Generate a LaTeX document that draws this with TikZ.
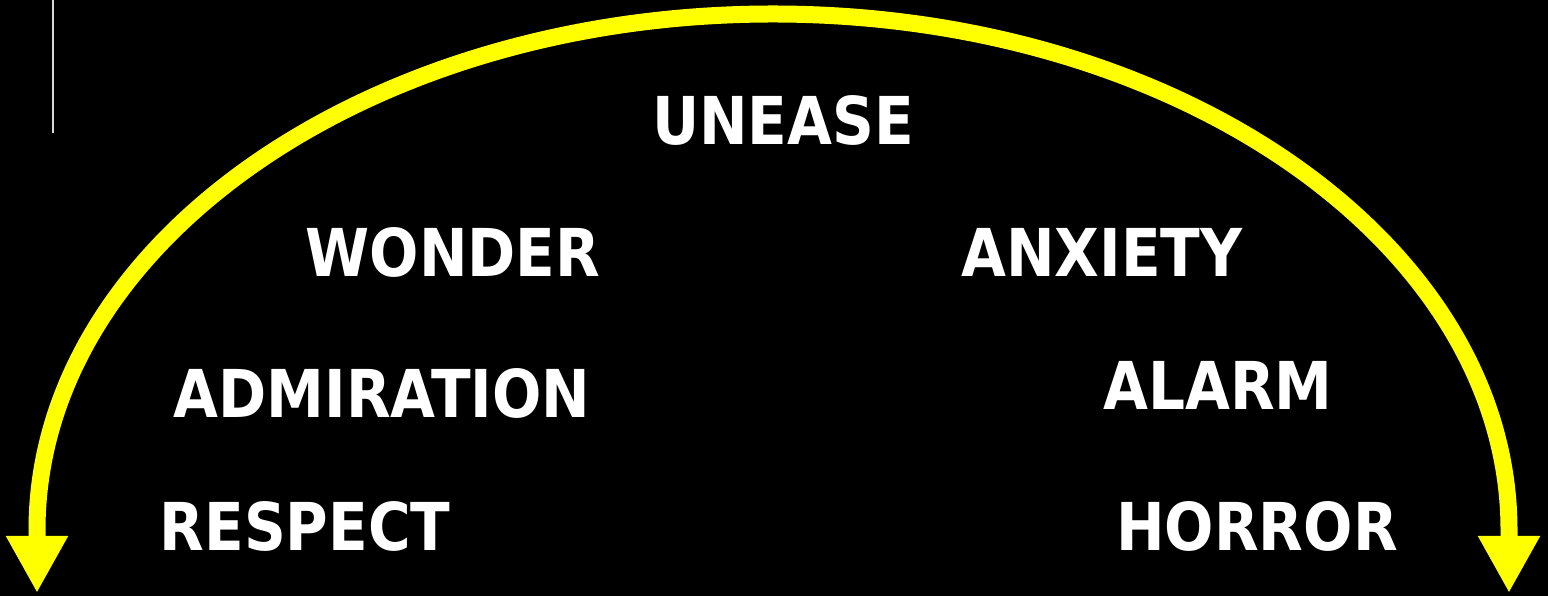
\documentclass[tikz,border=0pt]{standalone}
\usepackage{fontspec}
\usepackage{xcolor}
\usepackage{tikz}
\usetikzlibrary{arrows.meta}
\newfontfamily\wordfont[FakeStretch=0.88]{DejaVu Sans}
\definecolor{sweep}{HTML}{FFFF00}
\definecolor{board}{HTML}{000000}

\begin{document}
\begin{tikzpicture}[x=1pt,y=1pt,font=\wordfont\bfseries\fontsize{66}{70}\selectfont]
\tikzset{word/.style={text=white,anchor=base,inner sep=0pt}, arr/.style={draw=sweep,line width=17pt,{Triangle[width=58pt,length=57pt]}-{Triangle[width=58pt,length=57pt]}}}
\fill[board] (0,0) rectangle (1548,596);
\useasboundingbox (0,0) rectangle (1548,596);
\draw[white!85!black,line width=1.5pt] (53,596)--(53,463);
% the scale of feelings
\node[word] (unease) at (783,451) {UNEASE};
\node[word] (wonder) at (453,319) {WONDER};
\node[word] (anxiety) at (1102,319) {ANXIETY};
\node[word] (admiration) at (382,178) {ADMIRATION};
\node[word] (alarm) at (1218,186) {ALARM};
\node[word] (respect) at (305,45) {RESPECT};
\node[word] (horror) at (1257,45) {HORROR};
% sweeping arc with both ends down
\coordinate (lefttip) at (37,3);
\coordinate (righttip) at (1509,3);
\draw[arr] (lefttip)--(37,66) arc[start angle=180,end angle=0,x radius=736,y radius=516]--(righttip);
\end{tikzpicture}
\end{document}
